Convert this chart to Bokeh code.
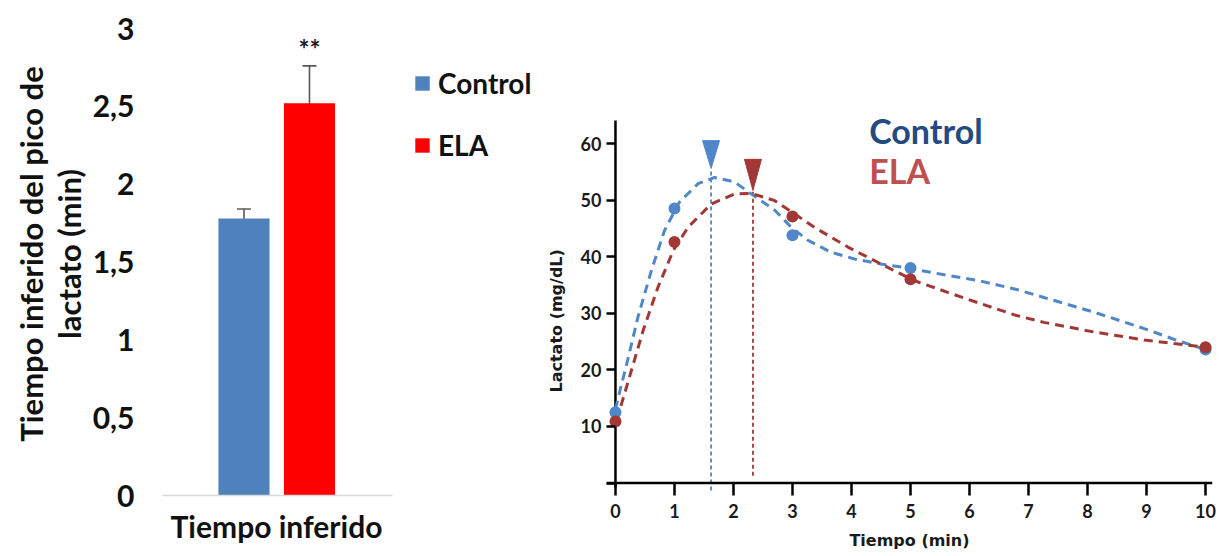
from bokeh.plotting import figure
from bokeh.models import (Range1d, ColumnDataSource, Whisker, TeeHead, Legend, LegendItem,
                          FixedTicker, Label, Span, Title)
from bokeh.layouts import row
from bokeh.core.properties import value
from bokeh.embed import file_html
from bokeh.resources import INLINE

FONT = "Lato"
WIDE = "DejaVu Sans"

# ---------------- left panel data ----------------
groups = ["Control", "ELA"]
peak_time = [1.78, 2.52]
peak_err = [0.06, 0.24]
bar_colors = ["#4f81bd", "#ff0000"]
y_ticks_left = [0, 0.5, 1, 1.5, 2, 2.5, 3]
y_tick_labels_left = ["0", "0,5", "1", "1,5", "2", "2,5", "3"]
sig_text = ["", "**"]
left_title = "Tiempo inferido del pico de\nlactato (min)"
left_xlabel = "Tiempo inferido"

# ---------------- right panel data ----------------
t_points = [0, 1, 3, 5, 10]
control_lact = [12.5, 48.5, 43.8, 38.0, 23.6]
ela_lact = [10.9, 42.6, 47.1, 36.0, 24.0]

control_fit_t = [0.0, 0.08, 0.19, 0.38, 0.61, 0.83, 1.08, 1.40, 1.68, 2.02, 2.30, 2.70, 2.98,
                 3.26, 3.65, 4.05, 4.50, 4.95, 5.63, 6.19, 6.80, 7.26, 8.11, 8.96, 9.52, 10.0]
control_fit_v = [13.0, 16.5, 21.0, 29.3, 37.6, 44.6, 49.6, 52.9, 54.0, 53.2, 51.1, 48.2, 45.2,
                 42.9, 40.8, 39.6, 38.7, 38.0, 36.7, 35.7, 34.2, 32.8, 30.2, 27.3, 25.2, 23.6]
ela_fit_t = [0.02, 0.27, 0.47, 0.72, 0.98, 1.23, 1.62, 2.02, 2.30, 2.70, 3.03, 3.37, 3.94,
             4.50, 5.06, 5.63, 6.19, 6.80, 7.26, 8.11, 8.96, 9.68, 10.0]
ela_fit_v = [11.1, 19.9, 27.0, 34.6, 41.1, 45.2, 49.3, 51.1, 51.2, 49.9, 47.6, 45.2, 41.7,
             38.7, 35.8, 33.7, 31.7, 29.6, 28.4, 26.7, 25.3, 24.4, 24.0]

peak_t = [1.62, 2.33]
peak_tip = [55.6, 51.7]
peak_top = [60.5, 57.2]
peak_line_bottom = [-1.3, 1.3]
series_colors = ["#4f87c9", "#a13836"]
title_colors = ["#234b82", "#c0504d"]
x_ticks_right = list(range(0, 11))
y_ticks_right = [0, 10, 20, 30, 40, 50, 60]
right_xlabel = "Tiempo (min)"
right_ylabel = "Lactato (mg/dL)"

# common frame: top 12 px, bottom 495 px (row aligns frames)
TOP, BOTTOM = 12, 61

# ================= LEFT FIGURE =================
X0, X1 = -1.244, 4.405
p1 = figure(width=532, height=556, x_range=Range1d(X0, X1), y_range=Range1d(0, 3.1028),
            output_backend="svg", toolbar_location=None,
            min_border_left=162, min_border_right=0, min_border_top=TOP, min_border_bottom=BOTTOM)
p1.outline_line_color = None
p1.xgrid.visible = False
p1.ygrid.visible = False

src = ColumnDataSource(dict(x=[0, 1], top=peak_time,
                            upper=[m + e for m, e in zip(peak_time, peak_err)],
                            lower=[m - e for m, e in zip(peak_time, peak_err)]))
bars = []
for i in range(2):
    s = ColumnDataSource(dict(x=[i], top=[peak_time[i]]))
    r = p1.vbar(x="x", top="top", width=0.78, source=s, fill_color=bar_colors[i], line_color=None)
    bars.append(r)

wh = Whisker(source=src, base="x", upper="upper", lower="lower", line_color="#595959", line_width=1.6,
             upper_head=TeeHead(size=14, line_color="#595959", line_width=1.6),
             lower_head=TeeHead(size=14, line_color="#595959", line_width=1.6))
p1.add_layout(wh)

sig_src = ColumnDataSource(dict(x=[0, 1], y=[u + 0.11 for u in src.data["upper"]], text=sig_text))
p1.text(x="x", y="y", text="text", source=sig_src, text_align="center", text_baseline="middle",
        text_font=value(FONT), text_font_size="26px", text_font_style="bold", text_color="#1a1a1a")

p1.yaxis.ticker = FixedTicker(ticks=y_ticks_left)
p1.yaxis.major_label_overrides = {t: l for t, l in zip(y_ticks_left, y_tick_labels_left)}
p1.yaxis.axis_line_color = None
p1.yaxis.major_tick_line_color = None
p1.yaxis.minor_tick_line_color = None
p1.yaxis.major_label_standoff = 22
p1.yaxis.major_label_text_font = FONT
p1.yaxis.major_label_text_font_size = "30px"
p1.yaxis.major_label_text_font_style = "bold"
p1.yaxis.major_label_text_color = "#111111"
p1.yaxis.axis_label = left_title
p1.yaxis.axis_label_text_font = FONT
p1.yaxis.axis_label_text_font_size = "31px"
p1.yaxis.axis_label_text_font_style = "bold"
p1.yaxis.axis_label_text_color = "#111111"
p1.yaxis.axis_label_text_line_height = 1.0
p1.yaxis.axis_label_standoff = 2

p1.xaxis.ticker = FixedTicker(ticks=[])
p1.xaxis.bounds = (X0, 2.267)
p1.xaxis.axis_line_color = "#d9d9d9"
p1.xaxis.axis_line_width = 1.5
p1.xaxis.major_tick_line_color = None
p1.xaxis.minor_tick_line_color = None

p1.add_layout(Title(text=left_xlabel, align="left", offset=8, standoff=21,
                    text_font=FONT, text_font_size="30px", text_font_style="bold",
                    text_color="#111111"), "below")

legend = Legend(items=[LegendItem(label=groups[i], renderers=[bars[i]]) for i in range(2)],
                location=(251, 330), glyph_width=18, glyph_height=18, label_height=40, spacing=22,
                label_standoff=7, padding=10, margin=0, border_line_color=None,
                background_fill_alpha=0,
                label_text_font=FONT, label_text_font_size="28px", label_text_font_style="bold",
                label_text_color="#111111")
p1.add_layout(legend)

# ================= RIGHT FIGURE =================
YA0, YA1 = -0.78, 64.06
p2 = figure(width=688, height=556, x_range=Range1d(-0.152, 10.118), y_range=Range1d(-2.191, 83.145),
            output_backend="svg", toolbar_location=None,
            min_border_left=73, min_border_right=8, min_border_top=TOP, min_border_bottom=BOTTOM)
p2.outline_line_color = None
p2.xgrid.visible = False
p2.ygrid.visible = False

# axis rules through the origin
p2.segment(x0=[0], y0=[YA0], x1=[0], y1=[YA1], line_color="black", line_width=2.5)
p2.add_layout(Span(location=0, dimension="width", line_color="black", line_width=2.5))

# vertical peak lines
for i in range(2):
    p2.segment(x0=[peak_t[i]], y0=[peak_line_bottom[i]], x1=[peak_t[i]], y1=[peak_tip[i]],
               line_color=series_colors[i], line_width=1.8, line_dash="4 3")

# fitted curves
p2.line(control_fit_t, control_fit_v, line_color=series_colors[0], line_width=3, line_dash="9 6")
p2.line(ela_fit_t, ela_fit_v, line_color=series_colors[1], line_width=3, line_dash="9 6")

# data points
p2.scatter(t_points, control_lact, size=12, fill_color=series_colors[0], line_color=None)
p2.scatter(t_points, ela_lact, size=12, fill_color=series_colors[1], line_color=None)

# peak markers (inverted triangles)
half_w = 8.5 / 59.1
tri_xs = [[t - half_w, t + half_w, t] for t in peak_t]
tri_ys = [[top, top, tip] for top, tip in zip(peak_top, peak_tip)]
p2.patches(tri_xs, tri_ys, fill_color=series_colors, line_color=series_colors, line_width=1)

# series titles
p2.add_layout(Label(x=4.30, y=62.3, text=groups[0], text_color=title_colors[0], text_font=FONT,
                    text_font_size="34px", text_font_style="bold", text_baseline="alphabetic"))
p2.add_layout(Label(x=4.30, y=55.2, text=groups[1], text_color=title_colors[1], text_font=FONT,
                    text_font_size="34px", text_font_style="bold", text_baseline="alphabetic"))

for ax in (p2.xaxis, p2.yaxis):
    ax.axis_line_color = None
    ax.major_tick_line_color = "black"
    ax.major_tick_line_width = 2.5
    ax.minor_tick_line_color = None
    ax.major_label_text_font = FONT
    ax.major_label_text_font_size = "18px"
    ax.major_label_text_font_style = "bold"
    ax.major_label_text_color = "#1a1a1a"
    ax.axis_label_text_font = WIDE
    ax.axis_label_text_font_style = "bold"
    ax.axis_label_text_color = "#1a1a1a"

p2.xaxis.ticker = FixedTicker(ticks=x_ticks_right)
p2.xaxis.major_tick_in = 12
p2.xaxis.major_tick_out = 0
p2.xaxis.major_label_standoff = 8
p2.xaxis.axis_label = right_xlabel
p2.xaxis.axis_label_text_font_size = "16px"
p2.xaxis.axis_label_standoff = 10
p2.yaxis.ticker = FixedTicker(ticks=y_ticks_right)
p2.yaxis.major_label_overrides = {0: ""}
p2.yaxis.major_tick_in = 9
p2.yaxis.major_tick_out = 0
p2.yaxis.major_label_standoff = 5

p2.add_layout(Title(text=right_ylabel, align="left", offset=103, standoff=24,
                    text_font=WIDE, text_font_size="16px", text_font_style="bold",
                    text_color="#1a1a1a"), "left")

layout = row(p1, p2)
open("out.html", "w").write(file_html(layout, INLINE))
